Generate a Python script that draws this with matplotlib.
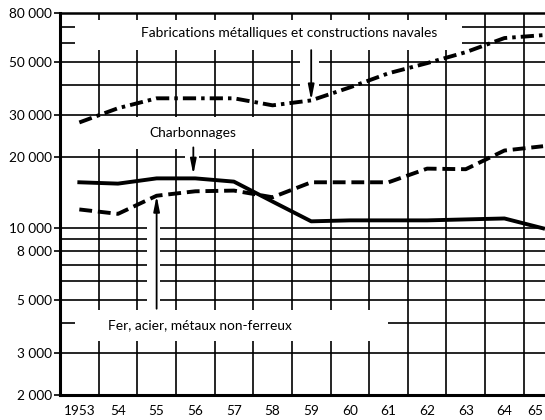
import numpy as np
import matplotlib
matplotlib.use('Agg')
import matplotlib.pyplot as plt
from matplotlib.ticker import FixedLocator, FuncFormatter, NullLocator

plt.rcParams['font.family'] = ['Lato', 'DejaVu Sans']

# values (log scale)
years = list(range(1953, 1966))
yearLabels = ['1953', '54', '55', '56', '57', '58', '59', '60', '61', '62', '63', '64', '65']
fabrications = [27800, 31900, 35100, 35100, 35100, 32800, 34400, 39000, 44700, 49300, 54800, 62800, 64600]
charbonnages = [15600, 15400, 16200, 16200, 15700, 12950, 10700, 10800, 10800, 10800, 10900, 11000, 10000]
ferAcier = [12000, 11500, 13700, 14300, 14400, 13500, 15600, 15600, 15600, 17800, 17700, 21200, 22100]
yTicks = [2000, 3000, 5000, 8000, 10000, 20000, 30000, 50000, 80000]
hGrid = [3000, 4000, 5000, 6000, 7000, 8000, 9000, 10000, 20000, 30000, 40000, 50000, 60000, 70000]

xMin, xMax = 1952.5, 1965.05
yMin, yMax = 2000, 80000

fig = plt.figure(figsize=(5.45, 4.2), dpi=100)
ax = fig.add_axes([60 / 545, 1 - 395 / 420, 1 - 60 / 545, (395 - 13) / 420])
ax.set_yscale('log')
ax.set_xlim(xMin, xMax)
ax.set_ylim(yMin, yMax)


def segments(lo, hi, gaps):
    # split [lo, hi] into pieces that skip the gaps
    out = []
    start = lo
    for g0, g1 in sorted(gaps):
        if g0 > start:
            out.append((start, g0))
        start = max(start, g1)
    if start < hi:
        out.append((start, hi))
    return out


gridLw = 1.2

# vertical rules between the years, broken where the labels sit
for i in range(len(years) - 1):
    xv = years[i] + 0.5
    gaps = []
    if xv <= 1962.6:
        gaps.append((55900, 74700))
    if xv <= 1957.6:
        gaps.append((21600, 29200))
    if xv <= 1960.6:
        gaps.append((3370, 4550))
    for a, b in segments(yMin, yMax, gaps):
        ax.plot([xv, xv], [a, b], color='black', lw=gridLw, solid_capstyle='butt', zorder=1)

# horizontal rules
for v in hGrid:
    if v in (4000,):
        pieces = [(xMin, 1952.9), (1961.0, xMax)]
    elif v in (60000, 70000):
        pieces = [(xMin, 1952.9), (1962.9, xMax)]
    elif v in (40000, 50000):
        pieces = segments(xMin, xMax, [(1958.7, 1959.2)])
    elif v == 20000:
        pieces = segments(xMin, xMax, [(1955.73, 1956.1)])
    elif 5000 <= v <= 10000:
        pieces = segments(xMin, xMax, [(1954.75, 1955.1)])
    else:
        pieces = [(xMin, xMax)]
    for a, b in pieces:
        ax.plot([a, b], [v, v], color='black', lw=gridLw, solid_capstyle='butt', zorder=1)

# the three series
ax.plot(years, fabrications, color='black', lw=2.8, linestyle=(0, (3.4, 1.3, 0.9, 1.3)),
        solid_joinstyle='round', zorder=3)
ax.plot(years, charbonnages, color='black', lw=2.8, solid_joinstyle='round', zorder=3)
ax.plot(years, ferAcier, color='black', lw=2.8, linestyle=(0, (3.3, 1.5)), zorder=3)

# labels and arrows
txtSize = 9.9
ax.text(1958.44, 65900, 'Fabrications métalliques et constructions navales', fontsize=txtSize,
        ha='center', va='center')
ax.text(1955.93, 25000, 'Charbonnages', fontsize=txtSize, ha='center', va='center')
ax.text(1956.11, 3940, 'Fer, acier, métaux non-ferreux', fontsize=txtSize, ha='center', va='center')

arrowProps = dict(arrowstyle='-|>,head_length=0.9,head_width=0.18', color='black', lw=1.3,
                  shrinkA=0, shrinkB=0)
ax.annotate('', xy=(1959, fabrications[6]), xytext=(1959, 55900), arrowprops=arrowProps)
ax.annotate('', xy=(1955.95, 16800), xytext=(1955.95, 21850), arrowprops=arrowProps)
ax.annotate('', xy=(1955.0, ferAcier[2]), xytext=(1955.0, 4600), arrowprops=arrowProps)

# axes styling
ax.spines['right'].set_visible(False)
ax.spines['left'].set_linewidth(2.2)
ax.spines['bottom'].set_linewidth(2.2)
ax.spines['top'].set_linewidth(1.8)

ax.yaxis.set_major_locator(FixedLocator(yTicks))
ax.yaxis.set_minor_locator(NullLocator())
ax.yaxis.set_major_formatter(FuncFormatter(lambda v, p: '{:,}'.format(int(v)).replace(',', ' ')))
ax.tick_params(axis='y', direction='out', length=4, width=1.2, pad=1.5, labelsize=9.8)

ax.set_xticks(years)
ax.set_xticklabels(yearLabels)
ax.xaxis.set_minor_locator(NullLocator())
ax.tick_params(axis='x', length=0, pad=7, labelsize=9.8)
# last year sits on the cut edge of the page: keep it inside
ax.get_xticklabels()[-1].set_horizontalalignment('right')

fig.savefig('out.png', dpi=100)
